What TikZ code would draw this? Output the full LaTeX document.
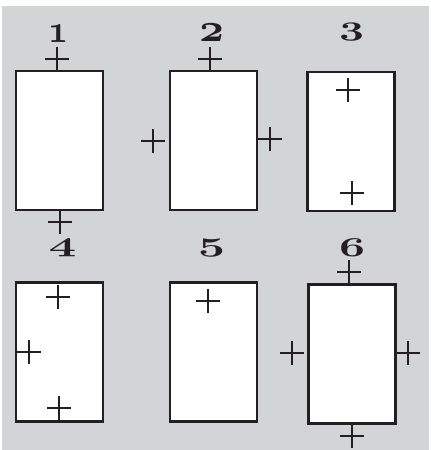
\documentclass[tikz,border=0pt]{standalone}
\usepackage{xcolor}
\usepackage{graphicx}
\definecolor{panelgray}{HTML}{D3D4D6}
\definecolor{inkline}{HTML}{231F20}
% digit squeezed into the box it fills in the layout
\newcommand{\pgnum}[2]{\resizebox*{#2}{0.35cm}{\boldmath$\oldstylenums{#1}$}}
\tikzset{
	page/.style={draw=inkline,fill=white,line width=1.4pt,minimum width=1.74cm,minimum height=2.78cm,inner sep=0pt},
	pagenum/.style={inner sep=0pt,text=inkline},
	plusmark/.pic={
		\draw[inkline,line width=1.1pt] (-12,0) -- (12,0);
		\draw[inkline,line width=1.1pt] (0,-12) -- (0,12);
	}
}
\begin{document}
\begin{tikzpicture}[x=0.02cm,y=-0.02cm]
			\useasboundingbox (0,0) rectangle (430,450);
			\fill[panelgray] (2,6) rectangle (429,450);
			% pages
			\node[page] (p1) at (59.5,140.5) {};
			\node[page] (p2) at (213.5,140.5) {};
			\node[page] (p3) at (351,141.5) {};
			\node[page] (p4) at (59.5,352) {};
			\node[page] (p5) at (213.5,352) {};
			\node[page] (p6) at (352,354) {};
			% numbers
			\node[pagenum] (n1) at (58,33.5) {\pgnum{1}{0.40cm}};
			\node[pagenum] (n2) at (211.5,33) {\pgnum{2}{0.50cm}};
			\node[pagenum] (n3) at (351.5,32.5) {\pgnum{3}{0.50cm}};
			\node[pagenum] (n4) at (62.5,248.5) {\pgnum{4}{0.56cm}};
			\node[pagenum] (n5) at (211.5,248.5) {\pgnum{5}{0.54cm}};
			\node[pagenum] (n6) at (352,247.5) {\pgnum{6}{0.52cm}};
			% marks
			\pic at (57,59) {plusmark};
			\pic at (60,222) {plusmark};
			\pic at (210,59) {plusmark};
			\pic at (153,141) {plusmark};
			\pic at (270,139) {plusmark};
			\pic at (348,90) {plusmark};
			\pic at (352,193) {plusmark};
			\pic at (58,297) {plusmark};
			\pic at (29,352) {plusmark};
			\pic at (59,408) {plusmark};
			\pic at (208,301) {plusmark};
			\pic at (349,272) {plusmark};
			\pic at (292,353) {plusmark};
			\pic at (408,353) {plusmark};
			\pic at (352,436) {plusmark};
\end{tikzpicture}
\end{document}
